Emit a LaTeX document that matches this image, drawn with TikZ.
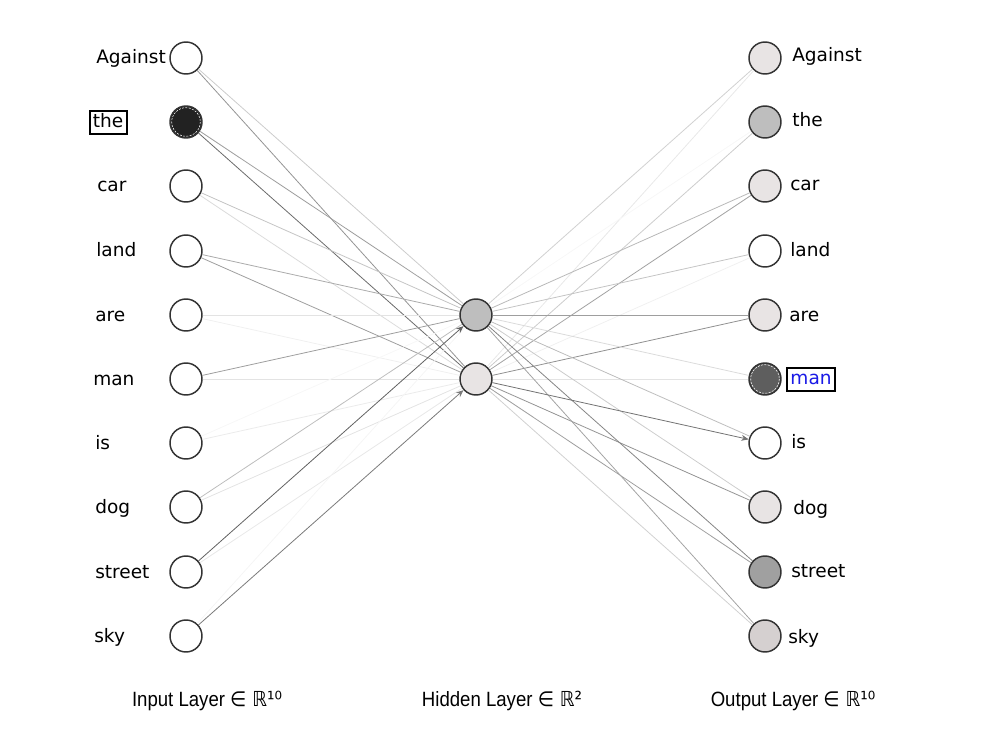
\documentclass[tikz,border=0pt]{standalone}
\usepackage{fontspec}
\setmainfont{DejaVu Sans}
\newfontfamily\capfont[FakeStretch=0.9]{Liberation Sans}
\newfontfamily\symfont[FakeStretch=0.9]{DejaVu Sans}
\usetikzlibrary{arrows.meta}
\definecolor{nodeborder}{HTML}{333333}
\definecolor{fillA}{HTML}{E8E4E4}
\definecolor{fillB}{HTML}{BEBEBE}
\definecolor{fillC}{HTML}{5E5E5E}
\definecolor{fillD}{HTML}{A0A0A0}
\definecolor{fillE}{HTML}{D5D0D0}
\definecolor{fillF}{HTML}{222222}
\definecolor{manblue}{HTML}{1A1AE6}
\begin{document}
\begin{tikzpicture}[x=0.75pt,y=-0.75pt,
  neuron/.style={circle,draw=nodeborder,line width=1.1pt,minimum size=24pt,inner sep=0pt,fill=white},
  lbl/.style={font=\fontsize{13.9}{16}\selectfont,inner sep=0pt,anchor=base west},
  boxlbl/.style={font=\fontsize{13.9}{16}\selectfont,draw=black,line width=1.5pt,inner xsep=2.6pt,inner ysep=2pt,text height=10.3pt,text depth=3pt,anchor=base west},
  caption/.style={font=\capfont\fontsize{15.5}{17}\selectfont,inner sep=0pt},
  edge/.style={line width=0.6pt},
  tip/.style={-{Stealth[length=5.5pt,width=4.5pt]}},
  innerdash/.style={white,dashed,line width=0.4pt,dash pattern=on 1.5pt off 1pt}
]
\useasboundingbox (0,0) rectangle (1000,731);

% input layer
\foreach \n/\y/\f in {1/58/white,2/122/fillF,3/186/white,4/251/white,5/315/white,6/379/white,7/443/white,8/507/white,9/572/white,10/636/white}{
  \node[neuron,fill=\f] (i\n) at (186,\y) {};
}
% hidden layer
\node[neuron,fill=fillB] (h1) at (476,315) {};
\node[neuron,fill=fillA] (h2) at (476,379) {};
% output layer
\foreach \n/\y/\f in {1/58/fillA,2/122/fillB,3/186/fillA,4/251/white,5/315/fillA,6/379/fillC,7/443/white,8/507/fillA,9/572/fillD,10/636/fillE}{
  \node[neuron,fill=\f] (o\n) at (765,\y) {};
}
\draw[innerdash] (i2.center) circle[radius=14.3];
\draw[innerdash] (o6.center) circle[radius=14.3];

% input -> hidden
\foreach \a/\b/\c in {1/1/20,1/2/42,2/1/38,2/2/58,3/1/23,3/2/14,4/1/33,4/2/38,5/1/11,5/2/6,6/1/38,6/2/11,7/1/3,7/2/8,8/1/26,8/2/11,9/2/9,10/1/4}{
  \draw[edge,draw=black!\c] (i\a) -- (h\b);
}
\draw[edge,tip,draw=black!62] (i9) -- (h1);
\draw[edge,tip,draw=black!52] (i10) -- (h2);

% hidden -> output
\foreach \a/\b/\c in {1/1/18,2/1/9,1/2/3,2/2/20,1/3/28,2/3/36,1/4/23,2/4/6,1/5/38,2/5/43,1/6/14,2/6/11,1/7/26,1/8/20,2/8/42,1/9/48,2/9/38,1/10/36,2/10/18}{
  \draw[edge,draw=black!\c] (h\a) -- (o\b);
}
\draw[edge,tip,draw=black!55] (h2) -- (o7);

% input labels
\node[lbl] (li1) at (96,64) {Against};
\node[boxlbl] (li2) at (88.5,127.5) {the};
\node[lbl] (li3) at (97,192) {car};
\node[lbl] (li4) at (96,257) {land};
\node[lbl] (li5) at (95,321) {are};
\node[lbl] (li6) at (93,385) {man};
\node[lbl] (li7) at (95,449) {is};
\node[lbl] (li8) at (95,513) {dog};
\node[lbl] (li9) at (95,578) {street};
\node[lbl] (li10) at (94,642) {sky};

% output labels
\node[lbl] (lo1) at (792,62) {Against};
\node[lbl] (lo2) at (792,127) {the};
\node[lbl] (lo3) at (790,191) {car};
\node[lbl] (lo4) at (790,257) {land};
\node[lbl] (lo5) at (789,321) {are};
\node[boxlbl,text=manblue] (lo6) at (786,384.5) {man};
\node[lbl] (lo7) at (791,448) {is};
\node[lbl] (lo8) at (793,514) {dog};
\node[lbl] (lo9) at (791,577) {street};
\node[lbl] (lo10) at (788,643) {sky};

% captions
\node[caption] (ci) at (207,701) {Input Layer {\symfont ∈ ℝ¹⁰}};
\node[caption] (ch) at (502,701) {Hidden Layer {\symfont ∈ ℝ²}};
\node[caption] (co) at (793,701) {Output Layer {\symfont ∈ ℝ¹⁰}};
\end{tikzpicture}
\end{document}
